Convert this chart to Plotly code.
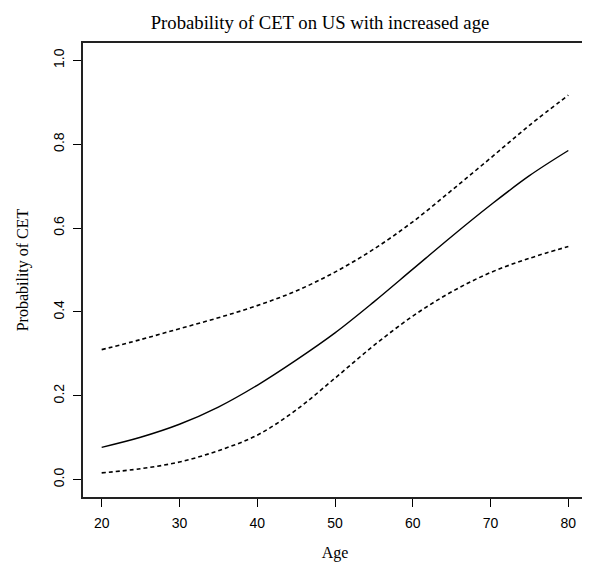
import plotly.graph_objects as go

age = [20, 25, 30, 35, 40, 45, 50, 55, 60, 65, 70, 75, 80]
prob_fit = [0.077, 0.101, 0.132, 0.173, 0.225, 0.285, 0.350, 0.424, 0.502, 0.580, 0.655, 0.725, 0.785]
prob_upper = [0.310, 0.334, 0.360, 0.386, 0.415, 0.450, 0.495, 0.550, 0.615, 0.690, 0.767, 0.845, 0.917]
prob_lower = [0.016, 0.026, 0.042, 0.069, 0.106, 0.166, 0.242, 0.320, 0.390, 0.448, 0.494, 0.528, 0.556]

x_ticks = [20, 30, 40, 50, 60, 70, 80]
y_ticks = [0.0, 0.2, 0.4, 0.6, 0.8, 1.0]

serif = "Liberation Serif, Times New Roman, serif"
sans = "Liberation Sans, Arial, sans-serif"

# page body has an 8px margin; figure sized to fill the remaining window
W, H = 582, 554

fig = go.Figure()
fig.add_trace(go.Scatter(x=age, y=prob_upper, mode="lines",
                         line=dict(color="black", width=1.6, dash="4px,3px", shape="spline"), showlegend=False))
fig.add_trace(go.Scatter(x=age, y=prob_fit, mode="lines",
                         line=dict(color="black", width=1.4, shape="spline"), showlegend=False))
fig.add_trace(go.Scatter(x=age, y=prob_lower, mode="lines",
                         line=dict(color="black", width=1.6, dash="4px,3px", shape="spline"), showlegend=False))

fig.update_layout(
    width=W, height=H,
    margin=dict(l=75, r=1, t=35, b=65),
    paper_bgcolor="white", plot_bgcolor="white",
    title=dict(text="Probability of CET on US with increased age", x=312 / W, xanchor="center",
               y=1 - 14 / H, yanchor="middle", font=dict(family=serif, size=18.7, color="black")),
)
fig.update_xaxes(
    range=[17.6, 82.4], tickvals=x_ticks, ticks="outside", ticklen=8, tickwidth=1.3, tickcolor="black",
    showline=True, mirror=True, linecolor="#222", linewidth=1.6, showgrid=False, zeroline=False,
    tickfont=dict(family=sans, size=14, color="black"), ticklabelstandoff=4,
    title=dict(text="Age", font=dict(family=serif, size=16, color="black"), standoff=17),
)
fig.update_yaxes(
    range=[-0.0415, 1.0415], tickvals=y_ticks, tickformat=".1f", ticks="outside", ticklen=8, tickwidth=1.3,
    tickcolor="black", tickangle=-90,
    showline=True, mirror=True, linecolor="#222", linewidth=1.6, showgrid=False, zeroline=False,
    tickfont=dict(family=sans, size=14, color="black"), ticklabelstandoff=4,
    title=dict(text="Probability of CET", font=dict(family=serif, size=16, color="black"), standoff=18),
)

fig.write_html("out.html")
